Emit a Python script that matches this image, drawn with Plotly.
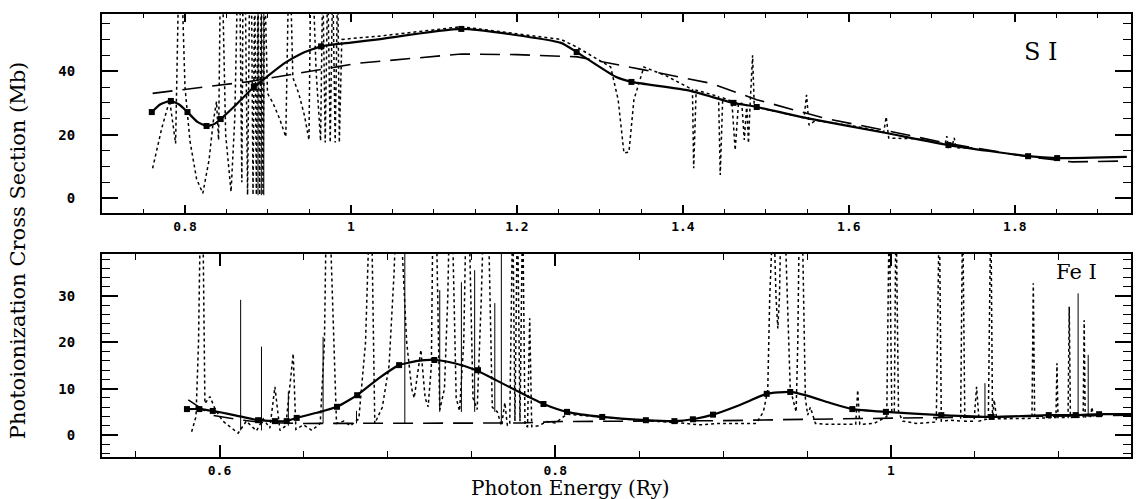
import plotly.graph_objects as go
from plotly.subplots import make_subplots

# ---------------- S I (top panel) ----------------
si_solid_x = [0.760, 0.770, 0.783, 0.793, 0.803, 0.815, 0.826, 0.835, 0.843, 0.860, 0.883, 0.900,
              0.920, 0.940, 0.964, 1.000, 1.033, 1.133, 1.253, 1.272, 1.319, 1.338, 1.405, 1.461,
              1.489, 1.549, 1.645, 1.720, 1.816, 1.851, 1.935]
si_solid_y = [27.1, 29.5, 30.6, 29.5, 27.1, 24.0, 22.7, 23.3, 24.9, 29.0, 35.0, 38.5,
              42.5, 45.5, 47.8, 49.0, 50.0, 53.3, 48.9, 46.0, 38.2, 36.6, 34.0, 30.0,
              28.7, 25.2, 20.5, 16.7, 13.2, 12.6, 13.0]

si_mark_x = [0.760, 0.783, 0.803, 0.826, 0.843, 0.883, 0.964, 1.133, 1.272, 1.338, 1.461, 1.489,
             1.720, 1.816, 1.851]
si_mark_y = [27.1, 30.6, 27.1, 22.7, 24.9, 35.0, 47.8, 53.3, 46.0, 36.6, 30.0, 28.7,
             16.7, 13.2, 12.6]

si_dash_x = [0.761, 0.877, 1.009, 1.133, 1.200, 1.273, 1.353, 1.433, 1.489, 1.570, 1.650, 1.720,
             1.816, 1.869, 1.935]
si_dash_y = [33.0, 36.7, 42.5, 45.4, 45.2, 44.5, 40.4, 36.2, 31.0, 25.2, 21.0, 17.2,
             13.0, 11.4, 11.7]

si_dot_x = [0.761, 0.772, 0.7815, 0.7887, 0.7925, 0.796, 0.800, 0.806, 0.814, 0.8215,
            0.829, 0.834, 0.838, 0.8405, 0.8427, 0.845, 0.849, 0.8555, 0.860, 0.8635,
            0.866, 0.8685, 0.870, 0.8725, 0.8754, 0.878, 0.880, 0.882, 0.884, 0.886,
            0.888, 0.890, 0.892, 0.894, 0.896, 0.8994, 0.906, 0.914, 0.9215, 0.9249,
            0.927, 0.930, 0.937, 0.944, 0.9494, 0.9515, 0.954, 0.958, 0.9634, 0.966,
            0.969, 0.972, 0.975, 0.978, 0.981, 0.984, 0.986, 0.989, 1.033, 1.133,
            1.253, 1.272, 1.313, 1.322, 1.329, 1.335, 1.341, 1.353, 1.380, 1.4115,
            1.413, 1.416, 1.443, 1.445, 1.448, 1.459, 1.463, 1.467, 1.471, 1.474,
            1.477, 1.479, 1.481, 1.484, 1.486, 1.529, 1.546, 1.549, 1.552, 1.560,
            1.617, 1.642, 1.645, 1.648, 1.681, 1.716, 1.718, 1.720, 1.725, 1.727,
            1.729, 1.750]
si_dot_y = [9.4, 22.0, 30.9, 17.2, 70, 70, 35, 18, 6, 1.5,
            12, 24, 30.4, 18.3, 70, 70, 20, 2, 25, 70,
            70, 5, 70, 70, 1, 70, 70, 1, 70, 1,
            70, 1, 70, 1, 70, 33, 30, 25, 19.3, 70,
            70, 38, 33, 26, 18.3, 70, 70, 40, 18, 70,
            17.5, 70, 17.5, 70, 17.5, 70, 17.5, 50, 51, 54,
            50, 47.6, 41.3, 31, 14.2, 14.5, 31, 41.3, 38.5, 34.2,
            9.4, 34, 32, 7.3, 31.6, 30.5, 15.1, 30, 29.8, 18.3,
            29.5, 17.3, 29.3, 45, 28.8, 26.2, 25.3, 32.5, 23, 24.5,
            22.2, 20.8, 25.6, 18.9, 18.7, 17.0, 19.5, 16.0, 17.0, 19.0,
            15.8, 15.9]

si_spike_x = [0.888, 0.892, 0.895]
si_spike_lo = [0.9, 0.9, 0.9]
si_spike_hi = [70, 70, 70]

# ---------------- Fe I (bottom panel) ----------------
fe_solid_x = [0.5806, 0.588, 0.596, 0.610, 0.623, 0.633, 0.640, 0.646, 0.658, 0.670, 0.682, 0.695,
              0.707, 0.718, 0.728, 0.740, 0.753, 0.765, 0.780, 0.793, 0.807, 0.828, 0.854, 0.871,
              0.882, 0.894, 0.910, 0.926, 0.940, 0.950, 0.965, 0.977, 0.997, 1.030, 1.060, 1.094,
              1.110, 1.124, 1.143]
fe_solid_y = [5.6, 5.6, 5.2, 4.2, 3.2, 3.0, 3.0, 3.7, 4.8, 6.1, 8.6, 12.3,
              15.1, 16.0, 16.2, 15.5, 14.0, 11.8, 9.0, 6.7, 5.0, 3.9, 3.2, 3.0,
              3.4, 4.4, 6.5, 8.9, 9.3, 8.5, 6.8, 5.6, 5.0, 4.3, 3.9, 4.3,
              4.3, 4.5, 4.5]

fe_mark_x = [0.5806, 0.588, 0.596, 0.623, 0.633, 0.640, 0.646, 0.670, 0.682, 0.707, 0.728, 0.754,
             0.793, 0.807, 0.828, 0.854, 0.871, 0.882, 0.894, 0.926, 0.940, 0.977, 0.997, 1.030,
             1.060, 1.094, 1.110, 1.124]
fe_mark_y = [5.6, 5.6, 5.2, 3.2, 3.0, 3.0, 3.7, 6.1, 8.6, 15.1, 16.2, 14.0,
             6.7, 5.0, 3.9, 3.2, 3.0, 3.4, 4.4, 8.9, 9.3, 5.6, 5.0, 4.3,
             3.9, 4.3, 4.3, 4.5]

fe_dash_x = [0.5814, 0.595, 0.610, 0.625, 0.650, 0.700, 0.750, 0.780, 0.800, 0.850, 0.900, 0.950,
             1.000, 1.050, 1.100, 1.143]
fe_dash_y = [7.6, 4.3, 3.4, 2.7, 2.5, 2.5, 2.5, 2.6, 2.9, 3.0, 3.1, 3.4,
             3.6, 3.9, 4.1, 4.3]

fe_dot_x = [0.5834, 0.5860, 0.5875, 0.5887, 0.5900, 0.5913, 0.5943, 0.5975, 0.602, 0.607,
            0.6111, 0.616, 0.622, 0.626, 0.630, 0.633, 0.636, 0.6395, 0.6439, 0.6455,
            0.650, 0.655, 0.660, 0.6625, 0.6637, 0.6655, 0.6697, 0.674, 0.678, 0.683,
            0.687, 0.6895, 0.6905, 0.6925, 0.697, 0.701, 0.7040, 0.7054, 0.7075, 0.7115,
            0.7145, 0.7160, 0.7200, 0.7225, 0.7243, 0.7262, 0.7272, 0.7290, 0.7312, 0.7340,
            0.7360, 0.7371, 0.7385, 0.741, 0.743, 0.7455, 0.7470, 0.7485, 0.751, 0.7535,
            0.756, 0.7575, 0.7600, 0.7625, 0.7655, 0.7680, 0.7700, 0.7715, 0.7729, 0.7747,
            0.7760, 0.7775, 0.7790, 0.7806, 0.7820, 0.7835, 0.7848, 0.7860, 0.790, 0.795,
            0.800, 0.807, 0.830, 0.854, 0.875, 0.886, 0.898, 0.9197, 0.9240, 0.9266,
            0.9278, 0.9286, 0.9300, 0.9315, 0.9326, 0.9336, 0.9346, 0.9365, 0.9400, 0.9435,
            0.9445, 0.9455, 0.9470, 0.9490, 0.9504, 0.9520, 0.9550, 0.9613, 0.9752, 0.9790,
            0.9802, 0.9814, 0.9900, 0.9975, 0.9990, 1.0005, 1.0020, 1.0030, 1.0045, 1.0070,
            1.0150, 1.0270, 1.0288, 1.0300, 1.0350, 1.0415, 1.0427, 1.0440, 1.0495, 1.0510,
            1.0525, 1.0580, 1.0595, 1.0605, 1.0615, 1.0630, 1.0840, 1.0848, 1.0856, 1.0983,
            1.0989, 1.0995, 1.1055, 1.1062, 1.1069, 1.1145, 1.1151, 1.1157, 1.1190, 1.1197,
            1.1205, 1.1240]
fe_dot_y = [0.7, 4, 20, 50, 50, 6.8, 8.3, 5.5, 3.0, 1.5,
            0.4, 3.0, 0.9, 3.5, 1.5, 10.4, 1.0, 2.0, 17.6, 1.2,
            2.2, 1.0, 2.5, 20, 50, 50, 2.5, 3.0, 2.0, 3.5,
            20, 50, 50, 2.5, 6, 15, 35, 50, 50, 20,
            10, 8, 18.4, 8, 6.1, 15, 50, 50, 5.4, 10,
            30, 50, 50, 8, 5.2, 20, 50, 50, 8, 5.5,
            30, 50, 50, 6.0, 5.0, 2.0, 7.0, 2.0, 2.5, 50,
            3.0, 50, 3.0, 50, 2.0, 1.8, 25.2, 1.8, 2.0, 2.9,
            2.6, 4.5, 3.8, 3.1, 2.6, 2.2, 2.5, 2.5, 5.0, 9.7,
            30, 50, 50, 30, 23, 30, 50, 50, 10, 5.0,
            20, 50, 50, 8.0, 4.3, 6.0, 2.5, 2.3, 2.2, 2.3,
            9.7, 2.3, 2.5, 4.0, 50, 5.0, 5.0, 50, 5.0, 3.0,
            2.5, 2.8, 50, 3.0, 3.2, 3.0, 50, 3.0, 3.0, 10.4,
            3.0, 3.5, 50, 3.5, 7.6, 3.5, 3.6, 32.8, 3.6, 3.8,
            15.5, 3.8, 3.8, 27.7, 3.8, 3.9, 24.8, 3.9, 4.0, 6.0,
            4.2, 4.4]

fe_spike_x = [0.6126, 0.625, 0.641, 0.6617, 0.6816, 0.7104, 0.7312, 0.7441, 0.752, 0.764, 0.7679,
              1.056, 1.1115, 1.1175]
fe_spike_lo = [1.0, 1.0, 2.0, 2.5, 2.5, 2.5, 5.0, 5.0, 5.0, 5.0, 2.5, 3.5, 3.9, 3.9]
fe_spike_hi = [29.2, 19.1, 9.4, 21.2, 5.2, 50, 31.3, 33.0, 35.6, 28.5, 50, 11.2, 30.6, 17.3]

panel_labels = ["S I", "Fe I"]
x_title = "Photon Energy (Ry)"
y_title = "Photoionization Cross Section (Mb)"


def segments(xs, lo, hi):
    sx, sy = [], []
    for x, a, b in zip(xs, lo, hi):
        sx += [x, x, None]
        sy += [a, b, None]
    return sx, sy


fig = make_subplots(rows=2, cols=1)

panels = [
    (1, si_dot_x, si_dot_y, si_spike_x, si_spike_lo, si_spike_hi, si_dash_x, si_dash_y,
     si_solid_x, si_solid_y, si_mark_x, si_mark_y),
    (2, fe_dot_x, fe_dot_y, fe_spike_x, fe_spike_lo, fe_spike_hi, fe_dash_x, fe_dash_y,
     fe_solid_x, fe_solid_y, fe_mark_x, fe_mark_y),
]
for (r, dx, dy, spx, splo, sphi, dax, day, sx, sy, mx, my) in panels:
    fig.add_trace(go.Scatter(x=dx, y=dy, mode="lines",
                             line=dict(color="black", width=1.5, dash="dot")), row=r, col=1)
    gx, gy = segments(spx, splo, sphi)
    fig.add_trace(go.Scatter(x=gx, y=gy, mode="lines",
                             line=dict(color="black", width=1.0)), row=r, col=1)
    fig.add_trace(go.Scatter(x=dax, y=day, mode="lines",
                             line=dict(color="black", width=1.6, dash="20px,10px")), row=r, col=1)
    fig.add_trace(go.Scatter(x=sx, y=sy, mode="lines", line_shape="spline",
                             line=dict(color="black", width=2.2, smoothing=0.5)), row=r, col=1)
    fig.add_trace(go.Scatter(x=mx, y=my, mode="markers",
                             marker=dict(symbol="square", size=6, color="black")), row=r, col=1)

tickfont = dict(family="DejaVu Sans Mono", size=14, color="black", weight="bold")
xtickfont = dict(family="DejaVu Sans Mono", size=13, color="black", weight="bold")
common_x = dict(showline=True, linecolor="black", linewidth=2, mirror="ticks", ticks="inside",
                tickcolor="black", tickwidth=1.5, showgrid=False, zeroline=False,
                tickfont=xtickfont, dtick=0.2, tick0=0)
common_y = dict(showline=True, linecolor="black", linewidth=2, mirror="ticks", ticks="inside",
                tickcolor="black", tickwidth=1.5, showgrid=False, zeroline=False,
                tickfont=tickfont, ticklabelstandoff=22)

fig.update_xaxes(**common_x, range=[0.70, 1.94], ticklen=8,
                 minor=dict(dtick=0.05, ticklen=4, ticks="inside", tickcolor="black", tickwidth=1.2),
                 domain=[0, 1], row=1, col=1)
fig.update_xaxes(**common_x, range=[0.53, 1.143], ticklen=12,
                 minor=dict(dtick=0.05, ticklen=6, ticks="inside", tickcolor="black", tickwidth=1.2),
                 domain=[0, 1], row=2, col=1)
fig.update_yaxes(**common_y, range=[-4.7, 58], dtick=20, ticklen=16,
                 minor=dict(dtick=5, ticklen=8, ticks="inside", tickcolor="black", tickwidth=1.2),
                 domain=[0.5508, 1], row=1, col=1)
fig.update_yaxes(**common_y, range=[-4.75, 39.1], dtick=10, ticklen=16,
                 minor=dict(dtick=2, ticklen=8, ticks="inside", tickcolor="black", tickwidth=1.2),
                 domain=[0, 0.4582], row=2, col=1)

serif = "DejaVu Serif"
fig.add_annotation(text=panel_labels[0], xref="paper", yref="paper", x=0.9127, y=0.914,
                   xanchor="center", yanchor="middle",
                   showarrow=False, font=dict(family=serif, size=24, color="black"))
fig.add_annotation(text=panel_labels[1], xref="paper", yref="paper", x=0.9467, y=0.4176,
                   xanchor="center", yanchor="middle",
                   showarrow=False, font=dict(family=serif, size=21, color="black"))
fig.add_annotation(text=x_title, xref="paper", yref="paper", x=0.455, y=-0.069,
                   xanchor="center", yanchor="middle", showarrow=False,
                   font=dict(family=serif, size=20, color="black"))
fig.add_annotation(text=y_title, xref="paper", yref="paper", x=-0.0815, y=0.465,
                   xanchor="center", yanchor="middle", textangle=-90, showarrow=False,
                   font=dict(family=serif, size=21, color="black"))

fig.update_layout(width=1137, height=499, showlegend=False,
                  margin=dict(l=102, r=4, t=14, b=42),
                  plot_bgcolor="white", paper_bgcolor="white")

fig.write_html("out.html", config={"displayModeBar": False},
               post_script="document.body.style.margin='0px';")
